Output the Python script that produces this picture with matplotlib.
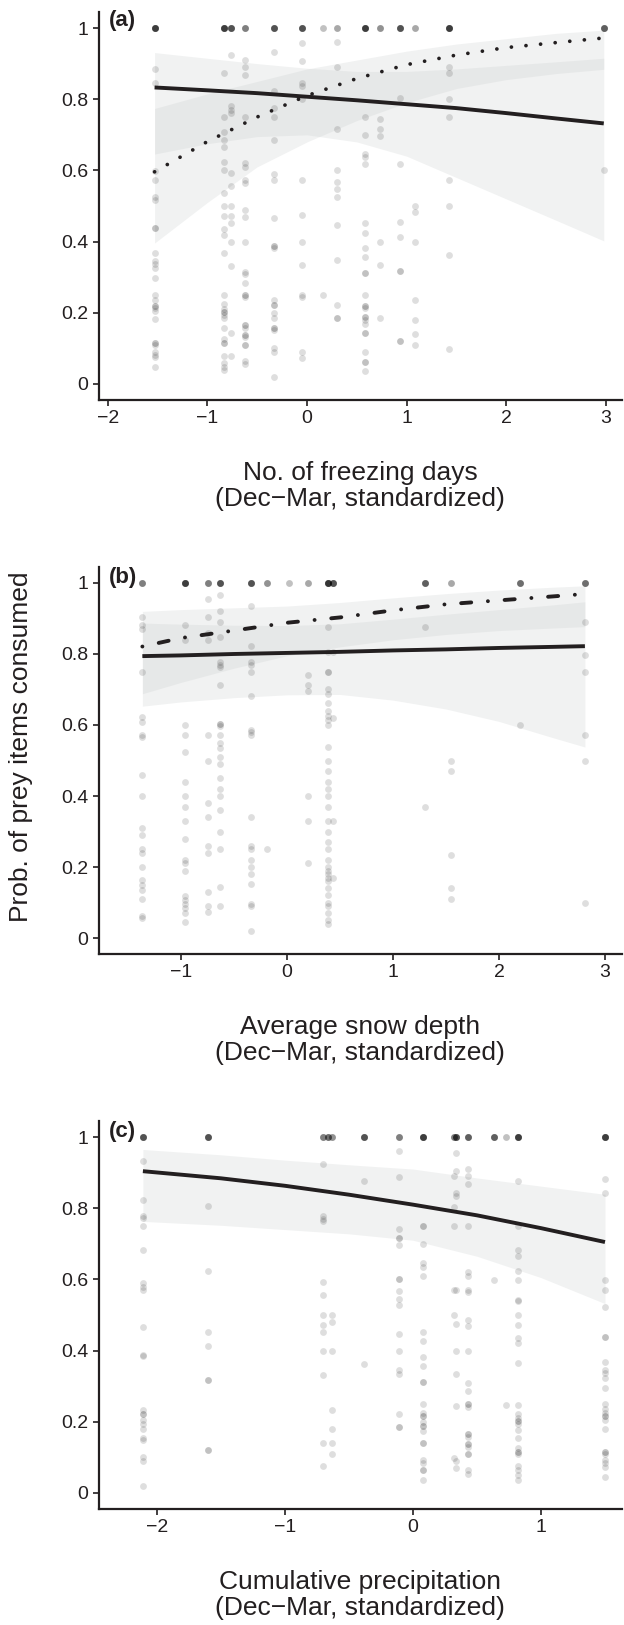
import numpy as np
import matplotlib.pyplot as plt

plt.rcParams['font.family'] = ['Liberation Sans', 'DejaVu Sans']

INK = '#231f20'

# ---------------- panel (a): freezing days ----------------
a_cols = [-1.53, -0.83, -0.76, -0.62, -0.33, -0.05, 0.16, 0.30, 0.58, 0.73, 0.93, 1.08, 1.43, 2.98]
a_n_one = [10, 10, 8, 5, 8, 8, 2, 3, 10, 4, 8, 3, 10, 7]
a_vals = [
    [0.884, 0.845, 0.599, 0.572, 0.524, 0.517, 0.439, 0.439, 0.369, 0.345, 0.338, 0.325, 0.297, 0.25,
     0.236, 0.219, 0.219, 0.214, 0.205, 0.182, 0.116, 0.116, 0.109, 0.091, 0.081, 0.075, 0.047],
    [0.875, 0.751, 0.709, 0.685, 0.666, 0.624, 0.600, 0.537, 0.500, 0.472, 0.434, 0.418, 0.367, 0.250,
     0.225, 0.212, 0.201, 0.201, 0.193, 0.184, 0.158, 0.125, 0.114, 0.114, 0.079, 0.060, 0.048, 0.039],
    [0.923, 0.780, 0.771, 0.762, 0.594, 0.556, 0.500, 0.472, 0.453, 0.400, 0.332, 0.142, 0.079],
    [0.909, 0.890, 0.868, 0.751, 0.622, 0.610, 0.573, 0.565, 0.489, 0.470, 0.400, 0.315, 0.308, 0.284,
     0.250, 0.250, 0.244, 0.166, 0.166, 0.158, 0.138, 0.138, 0.131, 0.109, 0.109, 0.064, 0.056],
    [0.932, 0.822, 0.776, 0.751, 0.685, 0.590, 0.573, 0.467, 0.388, 0.388, 0.383, 0.236, 0.222, 0.222,
     0.199, 0.184, 0.156, 0.156, 0.151, 0.100, 0.091, 0.021],
    [0.957, 0.906, 0.845, 0.837, 0.801, 0.573, 0.475, 0.400, 0.334, 0.250, 0.244, 0.091, 0.072],
    [0.250],
    [0.962, 0.890, 0.715, 0.602, 0.568, 0.549, 0.526, 0.446, 0.347, 0.222, 0.186, 0.186],
    [0.751, 0.700, 0.646, 0.638, 0.618, 0.453, 0.425, 0.383, 0.356, 0.311, 0.311, 0.250, 0.219, 0.219,
     0.213, 0.189, 0.189, 0.180, 0.168, 0.142, 0.142, 0.090, 0.063, 0.063, 0.037],
    [0.744, 0.716, 0.697, 0.400, 0.333, 0.184],
    [0.802, 0.619, 0.454, 0.413, 0.318, 0.318, 0.122, 0.122],
    [0.500, 0.482, 0.400, 0.235, 0.180, 0.141, 0.109],
    [0.890, 0.875, 0.801, 0.751, 0.572, 0.500, 0.363, 0.098],
    [0.600],
]
a_fit_x = [-1.53, -1.0, -0.5, 0.0, 0.5, 1.0, 1.5, 2.0, 2.5, 2.98]
a_solid = [0.833, 0.825, 0.817, 0.807, 0.797, 0.786, 0.775, 0.761, 0.746, 0.732]
a_solid_lo = [0.646, 0.675, 0.695, 0.700, 0.680, 0.640, 0.580, 0.520, 0.460, 0.402]
a_solid_hi = [0.931, 0.915, 0.900, 0.887, 0.878, 0.878, 0.885, 0.895, 0.905, 0.915]
a_dot = [0.596, 0.681, 0.750, 0.810, 0.858, 0.897, 0.924, 0.945, 0.959, 0.972]
a_dot_lo = [0.396, 0.510, 0.610, 0.680, 0.740, 0.790, 0.830, 0.855, 0.872, 0.884]
a_dot_hi = [0.774, 0.815, 0.850, 0.885, 0.910, 0.935, 0.955, 0.970, 0.985, 0.994]

# ---------------- panel (b): snow depth ----------------
b_cols = [-1.365, -0.962, -0.748, -0.635, -0.343, -0.186, 0.022, 0.20, 0.39, 0.43, 1.305, 1.543, 2.20, 2.81]
b_n_one = [5, 10, 5, 8, 8, 4, 2, 3, 11, 8, 7, 3, 6, 6]
b_vals = [
    [0.904, 0.882, 0.870, 0.750, 0.623, 0.609, 0.571, 0.566, 0.46, 0.40, 0.31, 0.29, 0.25, 0.24, 0.20,
     0.164, 0.150, 0.136, 0.110, 0.063, 0.056],
    [0.883, 0.840, 0.601, 0.571, 0.524, 0.44, 0.40, 0.37, 0.33, 0.28, 0.22, 0.21, 0.19, 0.119, 0.108,
     0.097, 0.084, 0.070, 0.045],
    [0.955, 0.905, 0.858, 0.838, 0.573, 0.50, 0.38, 0.34, 0.26, 0.24, 0.13, 0.091, 0.072],
    [0.965, 0.922, 0.889, 0.847, 0.777, 0.770, 0.762, 0.714, 0.604, 0.604, 0.598, 0.571, 0.55, 0.534,
     0.51, 0.49, 0.45, 0.42, 0.40, 0.36, 0.30, 0.25, 0.145, 0.09],
    [0.934, 0.822, 0.777, 0.770, 0.750, 0.683, 0.587, 0.579, 0.571, 0.34, 0.26, 0.25, 0.22, 0.20, 0.18,
     0.153, 0.097, 0.09, 0.019],
    [0.25],
    [],
    [0.742, 0.714, 0.695, 0.40, 0.33, 0.21],
    [0.875, 0.805, 0.750, 0.750, 0.700, 0.686, 0.663, 0.640, 0.626, 0.615, 0.600, 0.537, 0.50, 0.47,
     0.44, 0.42, 0.40, 0.37, 0.33, 0.30, 0.27, 0.25, 0.22, 0.20, 0.19, 0.18, 0.17, 0.16, 0.14, 0.12,
     0.10, 0.09, 0.07, 0.05, 0.04],
    [0.805, 0.62, 0.33, 0.17],
    [0.875, 0.37],
    [0.50, 0.47, 0.235, 0.14, 0.11],
    [0.60],
    [0.889, 0.798, 0.750, 0.571, 0.50, 0.098],
]
b_fit_x = [-1.365, -1.0, -0.5, 0.0, 0.5, 1.0, 1.5, 2.0, 2.5, 2.81]
b_solid = [0.794, 0.796, 0.800, 0.803, 0.806, 0.810, 0.813, 0.817, 0.820, 0.822]
b_solid_lo = [0.653, 0.665, 0.677, 0.685, 0.686, 0.670, 0.645, 0.610, 0.565, 0.538]
b_solid_hi = [0.887, 0.884, 0.881, 0.880, 0.885, 0.898, 0.912, 0.925, 0.938, 0.947]
b_dash = [0.821, 0.845, 0.866, 0.888, 0.903, 0.923, 0.940, 0.951, 0.962, 0.969]
b_dash_lo = [0.688, 0.720, 0.760, 0.795, 0.820, 0.840, 0.855, 0.866, 0.873, 0.877]
b_dash_hi = [0.920, 0.925, 0.930, 0.935, 0.945, 0.958, 0.970, 0.980, 0.988, 0.992]

# ---------------- panel (c): precipitation ----------------
c_cols = [-2.11, -1.60, -0.70, -0.665, -0.635, -0.385, -0.107, 0.081, 0.32, 0.34, 0.43, 0.633, 0.73, 0.823, 1.50]
c_n_one = [8, 8, 5, 6, 4, 8, 5, 10, 5, 8, 7, 7, 2, 10, 10]
c_vals = [
    [0.933, 0.822, 0.777, 0.772, 0.749, 0.684, 0.590, 0.579, 0.570, 0.466, 0.387, 0.385, 0.234, 0.221,
     0.221, 0.204, 0.193, 0.181, 0.155, 0.149, 0.101, 0.090, 0.019],
    [0.806, 0.625, 0.452, 0.412, 0.318, 0.318, 0.122, 0.122],
    [0.923, 0.778, 0.770, 0.763, 0.593, 0.555, 0.500, 0.472, 0.452, 0.398, 0.332, 0.141, 0.077],
    [],
    [0.500, 0.480, 0.398, 0.234, 0.181, 0.141, 0.109],
    [0.876, 0.363],
    [0.962, 0.888, 0.743, 0.715, 0.715, 0.696, 0.602, 0.602, 0.567, 0.546, 0.527, 0.447, 0.399, 0.346,
     0.333, 0.221, 0.184, 0.184],
    [0.749, 0.749, 0.699, 0.646, 0.635, 0.609, 0.452, 0.427, 0.382, 0.356, 0.312, 0.312, 0.249, 0.225,
     0.215, 0.215, 0.200, 0.187, 0.187, 0.175, 0.141, 0.141, 0.094, 0.085, 0.064, 0.064, 0.037],
    [0.890, 0.802, 0.749, 0.571, 0.500, 0.099],
    [0.955, 0.905, 0.843, 0.834, 0.571, 0.474, 0.399, 0.333, 0.243, 0.089, 0.071],
    [0.909, 0.890, 0.869, 0.749, 0.621, 0.609, 0.571, 0.565, 0.487, 0.468, 0.399, 0.309, 0.286, 0.249,
     0.249, 0.242, 0.165, 0.165, 0.158, 0.137, 0.137, 0.130, 0.109, 0.109, 0.064, 0.054],
    [0.599],
    [0.248],
    [0.876, 0.749, 0.684, 0.666, 0.625, 0.599, 0.541, 0.538, 0.500, 0.472, 0.436, 0.420, 0.366, 0.248,
     0.221, 0.212, 0.202, 0.202, 0.193, 0.178, 0.155, 0.125, 0.115, 0.115, 0.110, 0.077, 0.064, 0.050,
     0.036],
    [0.882, 0.843, 0.599, 0.571, 0.522, 0.438, 0.438, 0.368, 0.346, 0.337, 0.324, 0.296, 0.249, 0.237,
     0.224, 0.215, 0.215, 0.206, 0.181, 0.115, 0.115, 0.109, 0.094, 0.085, 0.073, 0.046],
]
c_fit_x = [-2.11, -1.5, -1.0, -0.5, 0.0, 0.5, 1.0, 1.5]
c_solid = [0.904, 0.884, 0.863, 0.838, 0.810, 0.780, 0.744, 0.705]
c_solid_lo = [0.763, 0.752, 0.740, 0.728, 0.710, 0.665, 0.605, 0.532]
c_solid_hi = [0.965, 0.950, 0.935, 0.922, 0.910, 0.885, 0.862, 0.839]

W, H = 624, 1625
fig = plt.figure(figsize=(W / 100, H / 100), dpi=100)


def add_panel(top, bottom, xlim, xticks):
    ax = fig.add_axes([99 / W, 1 - bottom / H, (622 - 99) / W, (bottom - top) / H])
    ax.set_xlim(*xlim)
    ax.set_ylim(-0.045, 1.045)
    for s in ['top', 'right']:
        ax.spines[s].set_visible(False)
    for s in ['left', 'bottom']:
        ax.spines[s].set_linewidth(1.6)
        ax.spines[s].set_color(INK)
    ax.set_xticks(xticks)
    ax.set_xticklabels([str(t).replace('-', '\u2212') for t in xticks])
    ax.set_yticks([0, 0.2, 0.4, 0.6, 0.8, 1])
    ax.set_yticklabels(['0', '0.2', '0.4', '0.6', '0.8', '1'])
    ax.tick_params(length=4.5, width=1.2, color=INK, labelsize=14, labelcolor=INK, pad=3)
    return ax


def points(ax, cols, n_one, vals):
    xs, ys = [], []
    for x, n, v in zip(cols, n_one, vals):
        xs += [x] * (n + len(v))
        ys += [1.0] * n + list(v)
    ax.scatter(xs, ys, s=24, color='black', alpha=0.13, linewidths=0, zorder=2)


def band(ax, x, lo, hi):
    ax.fill_between(x, lo, hi, color='#c8cccc', alpha=0.25, linewidth=0, zorder=1)


def xlabel(bottom, text):
    fig.text(360 / W, 1 - (bottom + 86) / H, text + '\n(Dec\u2212Mar, standardized)',
             ha='center', va='center', fontsize=19, color=INK, linespacing=1.12)


# (a)
ax = add_panel(12, 400, (-2.088, 3.163), [-2, -1, 0, 1, 2, 3])
band(ax, a_fit_x, a_solid_lo, a_solid_hi)
band(ax, a_fit_x, a_dot_lo, a_dot_hi)
points(ax, a_cols, a_n_one, a_vals)
ax.plot(a_fit_x, a_solid, color=INK, lw=2.8, solid_capstyle='butt', zorder=3)
ax.plot(a_fit_x, a_dot, color=INK, lw=2.7, linestyle=(0, (0.01, 3.9)), dash_capstyle='round', zorder=3)
ax.text(0.019, 0.977, '(a)', transform=ax.transAxes, ha='left', va='center',
        fontsize=16, fontweight='bold', color=INK)
xlabel(400, 'No. of freezing days')

# (b)
ax = add_panel(567, 954, (-1.774, 3.160), [-1, 0, 1, 2, 3])
band(ax, b_fit_x, b_solid_lo, b_solid_hi)
band(ax, b_fit_x, b_dash_lo, b_dash_hi)
points(ax, b_cols, b_n_one, b_vals)
ax.plot(b_fit_x, b_solid, color=INK, lw=2.8, solid_capstyle='butt', zorder=3)
ax.plot(b_fit_x, b_dash, color=INK, lw=2.8, linestyle=(0, (0.01, 4.3, 2.6, 4.3)),
        dash_capstyle='round', zorder=3)
ax.text(0.019, 0.974, '(b)', transform=ax.transAxes, ha='left', va='center',
        fontsize=16, fontweight='bold', color=INK)
xlabel(954, 'Average snow depth')

# (c)
ax = add_panel(1121, 1509, (-2.453, 1.633), [-2, -1, 0, 1])
band(ax, c_fit_x, c_solid_lo, c_solid_hi)
points(ax, c_cols, c_n_one, c_vals)
ax.plot(c_fit_x, c_solid, color=INK, lw=2.8, solid_capstyle='butt', zorder=3)
ax.text(0.019, 0.974, '(c)', transform=ax.transAxes, ha='left', va='center',
        fontsize=16, fontweight='bold', color=INK)
xlabel(1509, 'Cumulative precipitation')

fig.text(21 / W, 1 - 747 / H, 'Prob. of prey items consumed', rotation=90,
         ha='center', va='center', fontsize=19, color=INK)

fig.savefig('out.png', dpi=100)
